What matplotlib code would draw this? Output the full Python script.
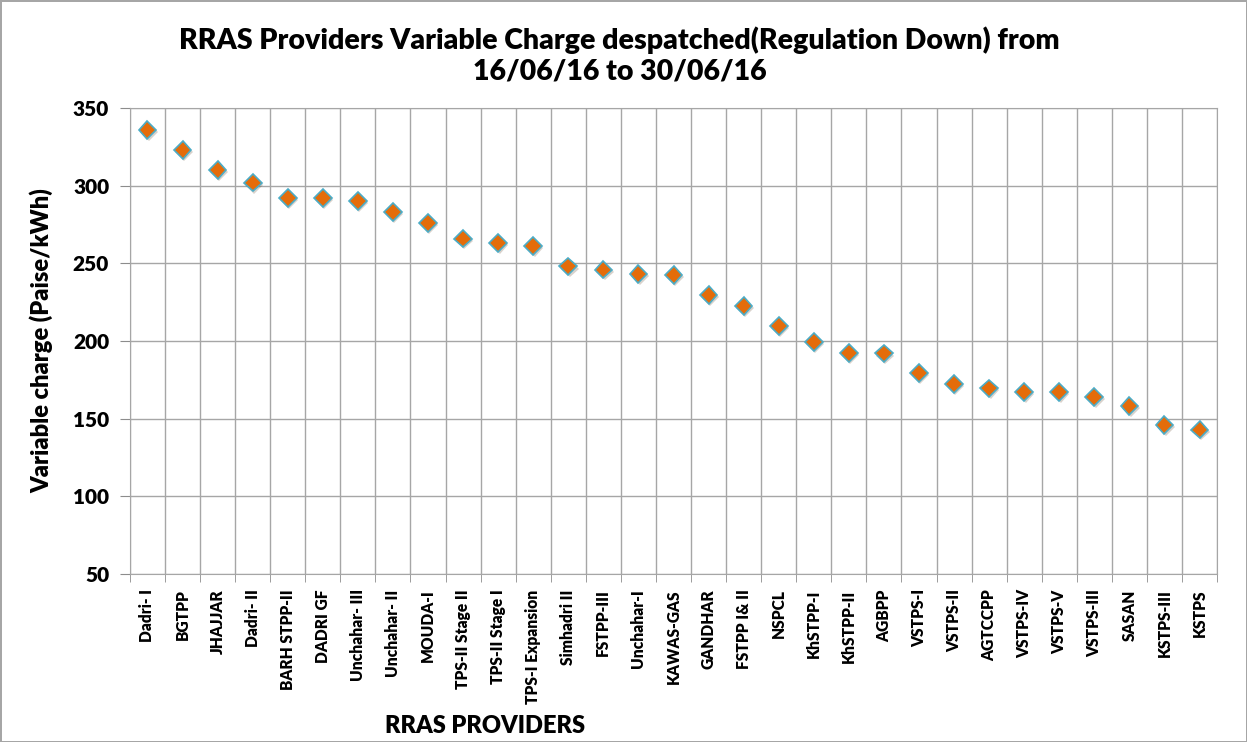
import matplotlib
matplotlib.use("Agg")
import matplotlib.pyplot as plt
import matplotlib.patheffects as pe
import numpy as np

# providers in the order shown, and their variable charge (Paise/kWh)
providers = ['Dadri- I', 'BGTPP', 'JHAJJAR', 'Dadri- II', 'BARH STPP-II', 'DADRI GF',
             'Unchahar- III', 'Unchahar- II', 'MOUDA-I', 'TPS-II Stage II', 'TPS-II Stage I',
             'TPS-I Expansion', 'Simhadri II', 'FSTPP-III', 'Unchahar-I', 'KAWAS-GAS',
             'GANDHAR', 'FSTPP I& II', 'NSPCL', 'KhSTPP-I', 'KhSTPP-II', 'AGBPP', 'VSTPS-I',
             'VSTPS-II', 'AGTCCPP', 'VSTPS-IV', 'VSTPS-V', 'VSTPS-III', 'SASAN', 'KSTPS-III',
             'KSTPS']
charge = [336, 323, 310, 302, 292, 292, 290, 283, 276, 266, 263, 261, 248, 246, 243, 242.5,
          229.5, 222.5, 209.5, 199.5, 192.5, 192, 179.5, 172.5, 169.5, 167, 167, 164, 158,
          146, 143]

plt.rcParams['font.family'] = ['Lato', 'DejaVu Sans']

fig = plt.figure(figsize=(12.47, 7.42), dpi=100)
fig.patch.set_edgecolor('#a6a6a6')
fig.patch.set_linewidth(2)
ax = fig.add_axes([0.1042, 0.2264, 0.8718, 0.628])

x = np.arange(len(providers))
ax.plot(x, charge, linestyle='none', marker='D', markersize=9,
        markerfacecolor='#e46c0a', markeredgecolor='#4bacc6', markeredgewidth=1.2,
        path_effects=[pe.SimplePatchShadow(offset=(1, -1.5), alpha=0.2), pe.Normal()],
        zorder=3)

ax.set_xlim(-0.5, len(providers) - 0.5)
ax.set_ylim(50, 350)
ax.set_yticks(range(50, 351, 50))
ax.set_xticks(x)
ax.set_xticklabels(providers, rotation=90, fontsize=11.2, fontweight='heavy')
ax.set_xticks(np.arange(-0.5, len(providers), 1), minor=True)
ax.tick_params(axis='x', which='major', length=0, pad=11)
ax.tick_params(axis='x', which='minor', length=6, color='#8c8c8c')
ax.tick_params(axis='y', length=7, color='#8c8c8c', labelsize=15, pad=8)
for lbl in ax.get_yticklabels():
    lbl.set_fontweight('heavy')

ax.grid(axis='y', which='major', color='#a6a6a6', linewidth=1)
ax.grid(axis='x', which='minor', color='#a6a6a6', linewidth=1)
ax.set_axisbelow(True)
for s in ax.spines.values():
    s.set_color('#a6a6a6')

ax.set_ylabel('Variable charge (Paise/kWh)', fontsize=17, fontweight='heavy', labelpad=14)
fig.text(0.389, 0.012, 'RRAS PROVIDERS', fontsize=17, fontweight='heavy', ha='center')
fig.text(0.497, 0.886, 'RRAS Providers Variable Charge despatched(Regulation Down) from\n16/06/16 to 30/06/16',
         fontsize=20.5, fontweight='heavy', ha='center', va='bottom', linespacing=1.2)

fig.savefig('out.png', dpi=100)
